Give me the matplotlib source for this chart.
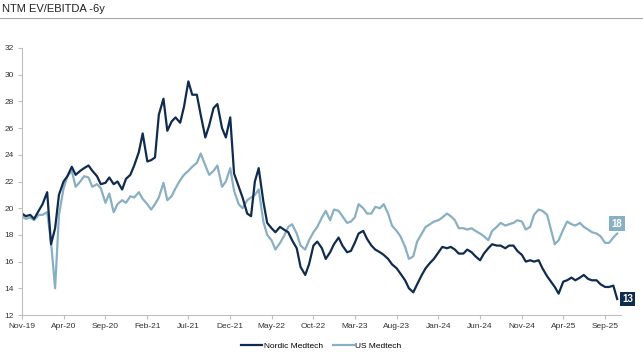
import matplotlib
matplotlib.use("Agg")
import matplotlib.pyplot as plt
import matplotlib.dates as mdates
import pandas as pd
import numpy as np

plt.rcParams['font.family'] = ['Liberation Sans', 'DejaVu Sans']

title = "NTM EV/EBITDA -6y"
series_names = ["Nordic Medtech", "US Medtech"]
start_date = "2019-11-01"

nordic = [19.6, 19.4, 19.5, 19.2, 19.8, 20.3, 21.2, 17.3, 18.5, 21.0,
          22.0, 22.4, 23.1, 22.5, 22.8, 23.0, 23.2, 22.8, 22.4, 21.8,
          21.9, 22.3, 21.8, 22.0, 21.4, 22.2, 22.5, 23.2, 24.2, 25.6,
          23.5, 23.6, 23.8, 27.0, 28.2, 25.8, 26.5, 26.8, 26.4, 27.6,
          29.5, 28.5, 28.5, 27.0, 25.3, 26.2, 27.5, 27.8, 26.0, 25.3,
          26.8, 22.6, 21.6, 20.8, 19.6, 19.4, 22.0, 23.0, 20.5, 18.9,
          18.5, 18.2, 18.6, 18.4, 18.2, 17.6, 17.0, 15.6, 15.0, 15.8,
          17.2, 17.5, 17.0, 16.2, 16.7, 17.3, 17.8, 17.2, 16.7, 16.8,
          17.4, 18.1, 18.3, 17.7, 17.2, 16.9, 16.7, 16.5, 16.2, 15.8,
          15.5, 15.1, 14.6, 14.0, 13.7, 14.3, 15.0, 15.5, 15.9, 16.2,
          16.7, 17.1, 17.0, 17.1, 16.9, 16.6, 16.6, 16.9, 16.7, 16.4,
          16.1, 16.6, 17.0, 17.3, 17.2, 17.2, 17.0, 17.2, 17.2, 16.8,
          16.5, 16.0, 16.1, 16.0, 16.1, 15.5, 14.9, 14.5, 14.1, 13.6,
          14.5, 14.6, 14.8, 14.6, 14.8, 15.0, 14.7, 14.6, 14.6, 14.3,
          14.1, 14.1, 14.2, 13.2]

us = [19.4, 19.2, 19.3, 19.1, 19.5, 19.5, 19.7, 17.5, 14.0, 19.5,
      21.5, 22.4, 22.8, 21.6, 22.0, 22.4, 22.3, 21.6, 21.8, 21.5,
      20.4, 21.1, 19.7, 20.3, 20.6, 20.4, 20.9, 20.8, 21.2, 20.7,
      20.3, 19.9, 20.3, 20.8, 21.9, 20.6, 20.9, 21.5, 22.1, 22.5,
      22.8, 23.1, 23.4, 24.1, 23.2, 22.5, 22.8, 23.2, 21.6, 22.0,
      23.0, 21.3, 20.3, 20.0, 20.6, 20.8, 21.0, 21.4, 19.0, 18.0,
      17.6, 16.9, 17.4, 17.9, 18.6, 18.8, 18.1, 17.2, 16.9, 17.6,
      18.2, 18.6, 19.3, 19.8, 19.1, 19.9, 19.8, 19.4, 18.9, 19.0,
      19.3, 20.3, 20.0, 19.6, 19.6, 20.1, 20.0, 20.3, 19.6, 18.7,
      18.3, 17.9, 17.1, 16.2, 16.4, 17.5, 18.1, 18.6, 18.8, 19.0,
      19.1, 19.3, 19.6, 19.4, 19.1, 18.5, 18.5, 18.4, 18.5, 18.3,
      18.1, 17.9, 17.6, 18.3, 18.6, 18.9, 18.7, 18.8, 18.9, 19.1,
      19.0, 18.4, 18.6, 19.5, 19.9, 19.8, 19.5, 18.4, 17.3, 17.6,
      18.4, 19.0, 18.8, 18.7, 18.9, 18.6, 18.4, 18.2, 18.1, 17.9,
      17.4, 17.4, 17.8, 18.1]

tick_labels = ["Nov-19", "Apr-20", "Sep-20", "Feb-21", "Jul-21", "Dec-21", "May-22",
               "Oct-22", "Mar-23", "Aug-23", "Jan-24", "Jun-24", "Nov-24", "Apr-25", "Sep-25"]
y_ticks = [12, 14, 16, 18, 20, 22, 24, 26, 28, 30, 32]
end_labels = ["13", "18"]

c_nordic = "#0f2b4d"
c_us = "#89afc2"

dates = pd.date_range(start_date, periods=len(nordic), freq="SMS")
tick_dates = pd.date_range(start_date, periods=len(tick_labels), freq="5MS")

fig = plt.figure(figsize=(6.43, 3.52), dpi=100)
ax = fig.add_axes([22/643, 1-315/352, (621-22)/643, (315-48)/352])

ax.plot(dates, us, color=c_us, lw=1.6, label=series_names[1], solid_joinstyle='round')
ax.plot(dates, nordic, color=c_nordic, lw=1.6, label=series_names[0], solid_joinstyle='round')

ax.set_ylim(12, 32)
ax.set_yticks(y_ticks)
ax.set_xlim(pd.Timestamp(start_date), pd.Timestamp("2025-10-29"))
ax.set_xticks(tick_dates)
ax.set_xticklabels(tick_labels)

for s in ["top", "right"]:
    ax.spines[s].set_visible(False)
for s in ["left", "bottom"]:
    ax.spines[s].set_color("#bfbfbf")
    ax.spines[s].set_linewidth(0.8)
ax.tick_params(axis="both", colors="#bfbfbf", labelcolor="#333333", labelsize=6, length=3, width=0.8)
ax.tick_params(axis="y", pad=3)
ax.tick_params(axis="x", pad=3)

# end labels
ax.annotate(end_labels[0], xy=(dates[-1], nordic[-1]), xytext=(7.5, 0), textcoords="offset points",
            ha="center", va="center", fontsize=7, fontweight="bold", color="white",
            bbox=dict(boxstyle="square,pad=0.25", fc=c_nordic, ec="none"), annotation_clip=False)
ax.annotate(end_labels[1], xy=(dates[-1], us[-1]), xytext=(0, 7), textcoords="offset points",
            ha="center", va="center", fontsize=7, fontweight="bold", color="white",
            bbox=dict(boxstyle="square,pad=0.25", fc=c_us, ec="none"), annotation_clip=False)

# title and rule
fig.text(2/643, 1-9/352, title, ha="left", va="center", fontsize=8, color="#222222")
fig.add_artist(plt.Line2D([0, 1], [1-18/352, 1-18/352], color="#a6a6a6", lw=0.8, transform=fig.transFigure))

handles, labels = ax.get_legend_handles_labels()
order = [1, 0]
fig.legend([handles[i] for i in order], [labels[i] for i in order], loc="center",
           bbox_to_anchor=(0.5, 1-346/352), ncol=2, frameon=False, fontsize=6,
           handlelength=2.5, handletextpad=0.2, columnspacing=1.2)

fig.savefig("out.png", dpi=100)
